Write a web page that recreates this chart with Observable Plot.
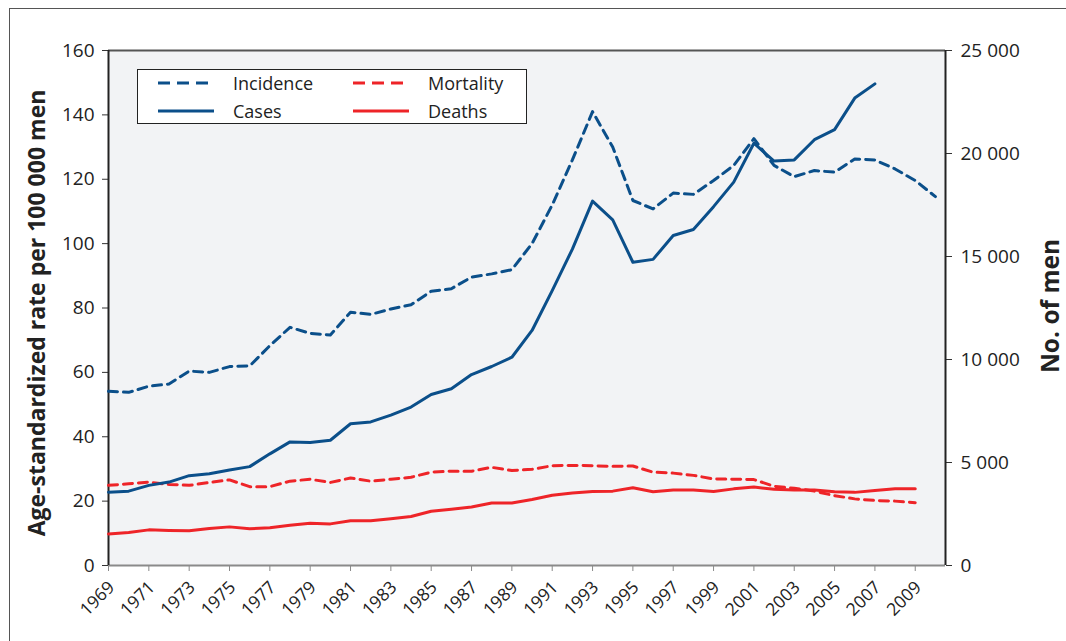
<!DOCTYPE html>
<html><head><meta charset="utf-8">
<script src="https://cdn.jsdelivr.net/npm/d3@7"></script>
<script src="https://cdn.jsdelivr.net/npm/@observablehq/plot@0.6"></script>
<style>
body{margin:0;background:#fff;font-family:"Open Sans",sans-serif;}
#wrap{position:relative;width:1066px;height:641px;overflow:hidden;}
#frame{position:absolute;left:9px;top:8px;width:1200px;height:800px;border-left:1.5px solid #555;border-top:1.5px solid #555;box-sizing:border-box;}
#chart{position:absolute;left:0;top:0;}
#legend{position:absolute;left:137px;top:69px;width:390px;height:55px;background:#fff;border:1px solid #222;box-sizing:border-box;}
#legend .it{position:absolute;display:flex;align-items:center;font-size:18px;color:#222;height:24px;}
</style></head><body>
<div id="wrap"><div id="frame"></div><div id="chart"></div><div id="legend"></div></div>
<script>
const years = [1969,1970,1971,1972,1973,1974,1975,1976,1977,1978,1979,1980,1981,1982,1983,1984,1985,1986,1987,1988,1989,1990,1991,1992,1993,1994,1995,1996,1997,1998,1999,2000,2001,2002,2003,2004,2005,2006,2007,2008,2009,2010];
// Age-standardized incidence per 100 000 (1969-2010)
const incidence = [54.1,53.8,55.7,56.4,60.4,60.0,61.8,62.0,68.3,74.0,72.1,71.6,78.7,78.0,79.7,81.0,85.2,86.0,89.6,90.6,91.9,100.0,112.0,126.0,141.0,130.0,113.4,110.8,115.7,115.3,119.6,124.3,132.6,124.3,120.8,122.7,122.2,126.3,126.0,123.2,119.6,114.6];
// Age-standardized mortality per 100 000 (1969-2009)
const mortality = [24.9,25.4,25.9,25.2,24.9,25.8,26.6,24.5,24.5,26.2,26.8,25.8,27.2,26.2,26.8,27.4,29.0,29.3,29.3,30.5,29.5,29.9,31.0,31.1,31.0,30.8,30.9,29.0,28.7,28.0,26.9,26.8,26.7,24.6,24.0,23.1,21.7,20.7,20.2,20.0,19.5];
// Number of cases (1969-2007)
const cases = [3560,3610,3890,4050,4360,4450,4640,4800,5420,6000,5970,6080,6880,6970,7300,7690,8300,8580,9270,9660,10110,11410,13340,15360,17690,16780,14720,14860,16020,16310,17420,18610,20500,19630,19690,20670,21160,22690,23380];
// Number of deaths (1969-2009)
const deaths = [1530,1600,1730,1700,1690,1800,1875,1780,1830,1950,2050,2020,2170,2170,2270,2380,2630,2730,2840,3030,3030,3200,3410,3520,3590,3610,3770,3580,3660,3660,3590,3720,3810,3700,3670,3670,3580,3550,3640,3720,3720];

const leftTicks = [0,20,40,60,80,100,120,140,160];
const rightTicks = [0,5000,10000,15000,20000,25000];
const xTicks = [1969,1971,1973,1975,1977,1979,1981,1983,1985,1987,1989,1991,1993,1995,1997,1999,2001,2003,2005,2007,2009];
const leftTitle = "Age-standardized rate per 100 000 men";
const rightTitle = "No. of men";
const legendItems = [
  {label:"Incidence", color:"#0b4f8a", dash:true, col:0,row:0},
  {label:"Mortality", color:"#ee2428", dash:true, col:1,row:0},
  {label:"Cases", color:"#0b4f8a", dash:false, col:0,row:1},
  {label:"Deaths", color:"#ee2428", dash:false, col:1,row:1}
];

const BLUE = "#0b4f8a", RED = "#ee2428";
const K = 25000/160;
const fmt = v => v === 0 ? "0" : String(Math.floor(v/1000)) + " 000";

const rows = (arr) => arr.map((v,i)=>({year:years[i], v}));

const chart = Plot.plot({
  width:1066, height:641,
  marginLeft:108, marginRight:121, marginTop:50, marginBottom:76,
  style:{fontFamily:"Open Sans, sans-serif", fontSize:"18px", background:"transparent", color:"#222", overflow:"visible"},
  x:{domain:[1969,2010.5], axis:null},
  y:{domain:[0,160], axis:null},
  marks:[
    Plot.frame({fill:"#f2f3f5", stroke:null}),
    Plot.ruleY([160],{stroke:"#555", strokeWidth:2}),
    Plot.ruleY([0],{stroke:"#8a8a8a", strokeWidth:2}),
    Plot.axisX(xTicks,{anchor:"bottom", tickSize:6, stroke:"#8a8a8a", text:null, label:null}),
    Plot.axisX(xTicks,{anchor:"bottom", tickSize:0, tickRotate:-45, tickPadding:6, dy:13, dx:3, fontSize:17.5, tickFormat:d=>String(d), label:null}),
    Plot.axisY(leftTicks,{anchor:"left", tickSize:6, tickPadding:8, fontSize:19, label:null, stroke:"#333"}),
    Plot.axisY(rightTicks.map(v=>v/K),{anchor:"right", tickSize:6, tickPadding:9, fontSize:19, label:null, stroke:"#333", tickFormat:d=>fmt(Math.round(d*K))}),
    Plot.ruleX([1969],{stroke:"#222", strokeWidth:2}),
    Plot.ruleX([2010.5],{stroke:"#222", strokeWidth:2}),
    Plot.lineY(rows(deaths),{x:"year", y:d=>d.v/K, stroke:RED, strokeWidth:3}),
    Plot.lineY(rows(mortality),{x:"year", y:"v", stroke:RED, strokeWidth:3, strokeDasharray:"9,6"}),
    Plot.lineY(rows(cases),{x:"year", y:d=>d.v/K, stroke:BLUE, strokeWidth:3}),
    Plot.lineY(rows(incidence),{x:"year", y:"v", stroke:BLUE, strokeWidth:3, strokeDasharray:"9,6"}),
    Plot.text([leftTitle],{frameAnchor:"left", dx:-71, dy:5, rotate:-90, textAnchor:"middle", fontWeight:"bold", fontSize:23, fill:"#222"}),
    Plot.text([rightTitle],{frameAnchor:"right", dx:106, dy:-2, rotate:-90, textAnchor:"middle", fontWeight:"bold", fontSize:24.5, fill:"#222"})
  ]
});
document.getElementById("chart").appendChild(chart);

const leg = document.getElementById("legend");
legendItems.forEach(it=>{
  const d = document.createElement("div");
  d.className = "it";
  d.style.left = (it.col===0 ? 19 : 214) + "px";
  d.style.top = (it.row===0 ? 1 : 29) + "px";
  d.innerHTML = `<svg width="58" height="10" style="margin-right:18px"><line x1="1" y1="5" x2="57" y2="5" stroke="${it.color}" stroke-width="3" ${it.dash?`stroke-dasharray="12,7"`:""}/></svg><span>${it.label}</span>`;
  leg.appendChild(d);
});
</script>
</body></html>
